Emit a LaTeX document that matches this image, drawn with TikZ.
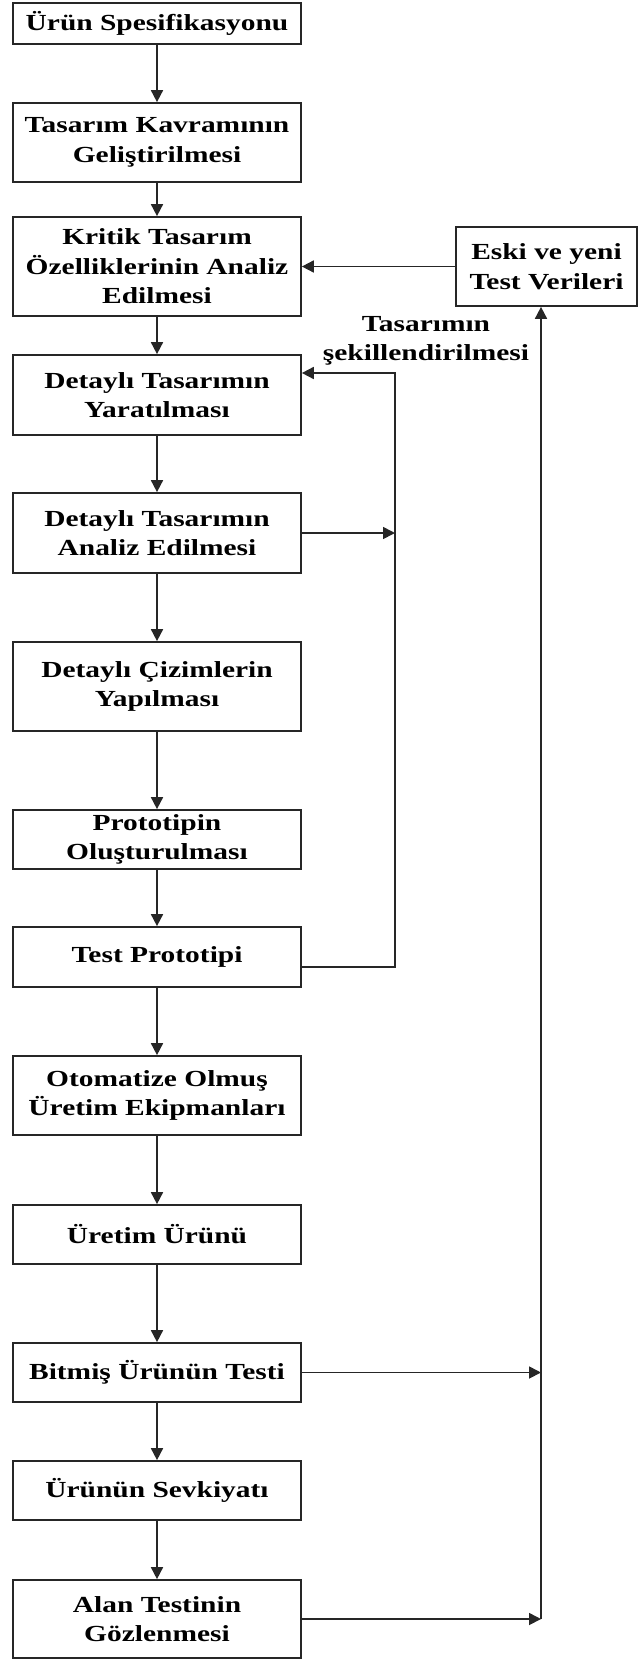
\documentclass[tikz,border=0pt]{standalone}
\usepackage{fontspec}
\setmainfont{Liberation Serif}[FakeStretch=1.28]
\usetikzlibrary{arrows.meta,calc}
\tikzset{
  stepbox/.style={draw=black!85, line width=1.7pt, minimum width=288pt, inner sep=0pt,
    align=center, font=\fontsize{23}{29.5}\selectfont\bfseries},
  flow/.style={draw=black!85, line width=1.7pt, -{Triangle[length=12pt,width=12pt]}},
  lbl/.style={align=center, inner sep=0pt, font=\fontsize{23}{29.5}\selectfont\bfseries}
}
\begin{document}
\begin{tikzpicture}[x=1pt,y=-1pt]
\useasboundingbox (0,0) rectangle (640,1659);

\node[stepbox, minimum height=41pt] (spec) at (157,23.5) {Ürün Spesifikasyonu};
\node[stepbox, minimum height=79pt] (kavram) at (157,142.5) {Tasarım Kavramının\\Geliştirilmesi};
\node[stepbox, minimum height=99pt] (kritik) at (157,266.5) {Kritik Tasarım\\Özelliklerinin Analiz\\Edilmesi};
\node[stepbox, minimum height=80pt] (detY) at (157,395) {Detaylı Tasarımın\\Yaratılması};
\node[stepbox, minimum height=80pt] (detA) at (157,533) {Detaylı Tasarımın\\Analiz Edilmesi};
\node[stepbox, minimum height=89pt] (cizim) at (157,686.5) {Detaylı Çizimlerin\\Yapılması};
\node[stepbox, minimum height=59pt] (proto) at (157,839.5) {Prototipin\\Oluşturulması};
\node[stepbox, minimum height=60pt] (test) at (157,957) {Test Prototipi};
\node[stepbox, minimum height=79pt] (otom) at (157,1095.5) {Otomatize Olmuş\\Üretim Ekipmanları};
\node[stepbox, minimum height=59pt] (uretim) at (157,1234.5) {Üretim Ürünü};
\node[stepbox, minimum height=59pt] (bitmis) at (157,1372.5) {Bitmiş Ürünün Testi};
\node[stepbox, minimum height=59pt] (sevk) at (157,1490.5) {Ürünün Sevkiyatı};
\node[stepbox, minimum height=78pt] (alan) at (157,1619) {Alan Testinin\\Gözlenmesi};

\node[stepbox, minimum width=181pt, minimum height=79pt] (eski) at (546.5,266.5) {Eski ve yeni\\Test Verileri};

\node[lbl] (sekil) at (426,341) {Tasarımın\\şekillendirilmesi};

\coordinate (loopx) at (395,0);
\coordinate (rail) at (541,0);

% main sequence
\draw[flow] (spec) -- (kavram);
\draw[flow] (kavram) -- (kritik);
\draw[flow] (kritik) -- (detY);
\draw[flow] (detY) -- (detA);
\draw[flow] (detA) -- (cizim);
\draw[flow] (cizim) -- (proto);
\draw[flow] (proto) -- (test);
\draw[flow] (test) -- (otom);
\draw[flow] (otom) -- (uretim);
\draw[flow] (uretim) -- (bitmis);
\draw[flow] (bitmis) -- (sevk);
\draw[flow] (sevk) -- (alan);

% test data back into the critical analysis
\draw[flow] (eski) -- (kritik);

% design shaping loop
\draw[flow] ([yshift=-10pt]test.east) -| (loopx |- detY.east)
  |- ([yshift=22pt]detY.east);
\draw[flow] (detA.east) -- (detA.east -| loopx);

% results collected on the right rail
\draw[flow] (alan.east -| rail) -- (eski.south -| rail);
\draw[flow] (bitmis.east) -- (bitmis.east -| rail);
\draw[flow] (alan.east) -- (alan.east -| rail);
\end{tikzpicture}
\end{document}
